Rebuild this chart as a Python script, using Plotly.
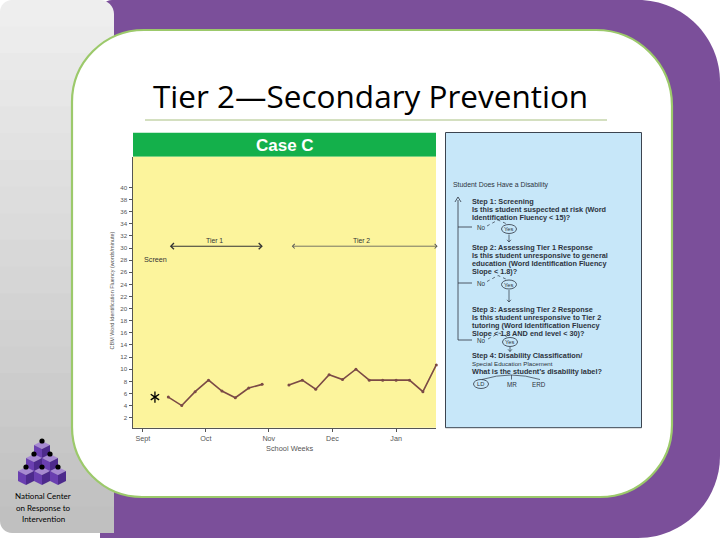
import plotly.graph_objects as go

# ---------------- data ----------------
tier1_weeks = [2, 3, 4, 5, 6, 7, 8, 9]
tier1_scores = [5.4, 4.0, 6.3, 8.2, 6.4, 5.3, 6.9, 7.5]
tier2_weeks = [11, 12, 13, 14, 15, 16, 17, 18, 19, 20, 21, 22]
tier2_scores = [7.4, 8.2, 6.7, 9.1, 8.3, 10.0, 8.2, 8.2, 8.2, 8.2, 6.3, 10.7]
screen_week = [1]
screen_score = [5.4]
month_ticks = [0.1, 4.8, 9.5, 14.25, 19.0]
month_labels = ["Sept", "Oct", "Nov", "Dec", "Jan"]
y_ticks = list(range(2, 41, 2))

W, H = 720, 540
K = 0.5523


def px(x):
    return x / W


def py(y):
    return 1 - y / H


def rrect(x0, y0, x1, y1, rtl, rtr, rbr, rbl):
    def p(x, y):
        return f"{px(x):.5f},{py(y):.5f}"
    s = f"M{p(x0 + rtl, y0)} L{p(x1 - rtr, y0)} "
    s += f"C{p(x1 - rtr + K * rtr, y0)} {p(x1, y0 + rtr - K * rtr)} {p(x1, y0 + rtr)} "
    s += f"L{p(x1, y1 - rbr)} "
    s += f"C{p(x1, y1 - rbr + K * rbr)} {p(x1 - rbr + K * rbr, y1)} {p(x1 - rbr, y1)} "
    s += f"L{p(x0 + rbl, y1)} "
    s += f"C{p(x0 + rbl - K * rbl, y1)} {p(x0, y1 - rbl + K * rbl)} {p(x0, y1 - rbl)} "
    s += f"L{p(x0, y0 + rtl)} "
    s += f"C{p(x0, y0 + rtl - K * rtl)} {p(x0 + rtl - K * rtl, y0)} {p(x0 + rtl, y0)} Z"
    return s


def poly(points, close=True):
    s = "M" + " L".join(f"{px(x):.5f},{py(y):.5f}" for x, y in points)
    return s + (" Z" if close else "")


shapes = []


def add_path(path, fill=None, line=None, lw=0, dash=None):
    d = dict(type="path", xref="paper", yref="paper", path=path, layer="below",
             line=dict(width=lw, color=line or "rgba(0,0,0,0)"))
    if dash:
        d["line"]["dash"] = dash
    if fill:
        d["fillcolor"] = fill
    shapes.append(d)


def add_rect(x0, y0, x1, y1, fill=None, line=None, lw=0):
    d = dict(type="rect", xref="paper", yref="paper", x0=px(x0), x1=px(x1),
             y0=py(y1), y1=py(y0), layer="below",
             line=dict(width=lw, color=line or "rgba(0,0,0,0)"))
    if fill:
        d["fillcolor"] = fill
    shapes.append(d)


def add_line(x0, y0, x1, y1, color, lw=1, dash=None):
    d = dict(type="line", xref="paper", yref="paper", x0=px(x0), x1=px(x1),
             y0=py(y0), y1=py(y1), layer="below", line=dict(width=lw, color=color))
    if dash:
        d["line"]["dash"] = dash
    shapes.append(d)


def add_ellipse(cx, cy, w, h, color="#2d3440"):
    shapes.append(dict(type="circle", xref="paper", yref="paper",
                       x0=px(cx - w / 2), x1=px(cx + w / 2), y0=py(cy + h / 2), y1=py(cy - h / 2),
                       layer="below", line=dict(width=0.8, color=color)))


# purple background frame
add_path(rrect(100, 0, 720, 538, 12, 82, 82, 0), fill="#7b4f9a")

# gray left panel with vertical gradient
N = 20
top_c, bot_c = 238, 192
y_edges = [0 + i * 533 / N for i in range(N + 1)]
for i in range(N):
    c = round(top_c + (bot_c - top_c) * i / (N - 1))
    col = f"rgb({c},{c},{c})"
    ya, yb = y_edges[i], y_edges[i + 1] + 0.8
    if i == 0:
        add_path(rrect(0, ya, 114, yb, 12, 14, 0, 0), fill=col)
    elif i == N - 1:
        add_path(rrect(0, ya, 114, y_edges[i + 1], 0, 0, 0, 12), fill=col)
    else:
        add_rect(0, ya, 114, yb, fill=col)

# white rounded content panel with green border
add_path(rrect(72, 30, 672, 497, 72, 76, 72, 70), fill="white", line="#9cc96b", lw=2.2)

# title underline
add_line(145, 120, 607, 120, "#a9c081", 1)

# chart: green header + yellow plot area
add_rect(133, 132.7, 436, 156.7, fill="#14b04b")
add_rect(133, 156.7, 436, 427.7, fill="#fcf49c")

# right blue panel
add_rect(445.5, 132.5, 641.5, 427.7, fill="#c7e7f9", line="#3c4450", lw=1)

# logo cubes
cube_centers = [(42, 448), (34, 461), (50, 461), (26, 474), (42, 474), (58, 474)]
for cx, cy in cube_centers:
    T = (cx, cy - 7)
    L = (cx - 8, cy - 3)
    R = (cx + 8, cy - 3)
    C = (cx, cy + 1)
    BL = (cx - 8, cy + 7)
    BR = (cx + 8, cy + 7)
    B = (cx, cy + 11)
    add_path(poly([T, R, C, L]), fill="#a78ad1")
    add_path(poly([L, C, B, BL]), fill="#6a3fb0")
    add_path(poly([C, R, BR, B]), fill="#4d2a8c")
for cx, cy in cube_centers:
    shapes.append(dict(type="circle", xref="paper", yref="paper",
                       x0=px(cx - 2.6), x1=px(cx + 2.6), y0=py(cy - 9.6), y1=py(cy - 4.4),
                       layer="below", fillcolor="black", line=dict(width=0)))

# flowchart lines in the blue panel
PC = "#2d3440"
no_rows = (227, 283, 340)
yes_pos = ((509, 229), (509, 284.5), (510, 342))
add_line(458, 200, 458, no_rows[-1], PC, 0.8)
add_path(poly([(455, 202), (458, 197), (461, 202)], close=False), line=PC, lw=0.8)
for yy in no_rows:
    add_line(458, yy, 472, yy, PC, 0.8)
for (xc, yc) in yes_pos:
    add_ellipse(xc, yc, 15, 9)
    add_path(poly([(xc - 22, yc - 3), (xc - 11, yc - 9), (xc - 2, yc - 5)], close=False),
             line=PC, lw=0.7, dash="dot")
# down arrows below each "Yes"
for (xc, ya, yb) in ((509, 234.5, 242), (509, 290, 302), (510, 347, 351.5)):
    add_line(xc, ya, xc, yb, PC, 0.7)
    add_path(poly([(xc - 2, yb - 2.2), (xc, yb), (xc + 2, yb - 2.2)], close=False), line=PC, lw=0.7)
add_ellipse(481, 384, 15, 9)
add_path(f"M{px(482):.5f},{py(379.5):.5f} Q{px(511):.5f},{py(370.5):.5f} {px(540):.5f},{py(379.5):.5f}",
         line=PC, lw=0.7)
add_line(511.5, 375, 511.5, 379.5, PC, 0.7)

# ---------------- figure ----------------
fig = go.Figure()
line_col = "#7b4a46"
fig.add_trace(go.Scatter(x=tier1_weeks, y=tier1_scores, mode="lines+markers",
                         line=dict(color=line_col, width=1.6),
                         marker=dict(size=3, color=line_col), cliponaxis=False))
fig.add_trace(go.Scatter(x=tier2_weeks, y=tier2_scores, mode="lines+markers",
                         line=dict(color=line_col, width=1.6),
                         marker=dict(size=3, color=line_col), cliponaxis=False))
for sym in ("y-up-open", "y-down-open"):
    fig.add_trace(go.Scatter(x=screen_week, y=screen_score, mode="markers",
                             marker=dict(symbol=sym, size=7, color="black",
                                         line=dict(width=1.3, color="black")), cliponaxis=False))

ann = []
TF = "Liberation Sans, Arial, sans-serif"


def txt(x, y, s, size=6.8, bold=True, color=PC, xanchor="left", font=TF):
    ann.append(dict(xref="paper", yref="paper", x=px(x), y=py(y), text=(f"<b>{s}</b>" if bold else s),
                    showarrow=False, xanchor=xanchor, yanchor="middle",
                    font=dict(size=size, color=color, family=font)))


# slide title
txt(370.5, 95, "Tier 2\u2014Secondary Prevention", size=31.5, bold=False, color="black",
    xanchor="center", font="Open Sans, Lato, sans-serif")
# case header
txt(284.5, 145, "Case C", size=17, bold=True, color="white", xanchor="center",
    font="Liberation Sans, Arial, sans-serif")

# logo text
for yy, s in ((496, "National Center"), (507.5, "on Response to"), (519, "Intervention")):
    txt(43, yy, s, size=8, bold=False, color="black", xanchor="center",
        font="Liberation Sans Narrow, Lato, sans-serif")

# flowchart text
txt(451, 185, "Student Does Have a Disability", size=6.9, bold=False)
lines_bold = [
    (202, "Step 1: Screening"),
    (210, "Is this student suspected at risk (Word"),
    (217.7, "Identification Fluency &lt; 15)?"),
    (247.7, "Step 2: Assessing Tier 1 Response"),
    (255.7, "Is this student unresponsive to general"),
    (263.3, "education (Word Identification Fluency"),
    (271, "Slope &lt; 1.8)?"),
    (309.5, "Step 3: Assessing Tier 2 Response"),
    (317.5, "Is this student unresponsive to Tier 2"),
    (325.5, "tutoring (Word Identification Fluency"),
    (333, "Slope &lt; 1.8 AND end level &lt; 30)?"),
    (355.5, "Step 4: Disability Classification/"),
    (371.2, "What is the student\u2019s disability label?"),
]
for yy, s in lines_bold:
    txt(470, yy, s, size=7.3, bold=True)
txt(470, 363.5, "Special Education Placement", size=6.2, bold=False)
for yy in no_rows:
    txt(475, yy + 0.5, "No", size=6.3, bold=False)
for (xc, yc) in yes_pos:
    txt(xc, yc, "Yes", size=5.8, bold=False, xanchor="center")
txt(481, 384, "LD", size=5.8, bold=False, xanchor="center")
txt(511.7, 384, "MR", size=6.3, bold=False, xanchor="center")
txt(539.3, 384, "ERD", size=6.3, bold=False, xanchor="center")

# axis title annotations
txt(289, 448, "School Weeks", size=7.4, bold=False, color="#555555", xanchor="center")
ann.append(dict(xref="paper", yref="paper", x=px(111.5), y=py(291),
                text="CBM Word Identification Fluency (words/minute)", showarrow=False,
                textangle=-90, xanchor="center", yanchor="middle",
                font=dict(size=5.5, color="#555555", family=TF)))

# chart annotations in data coordinates
ann.append(dict(xref="x", yref="y", x=9.05, y=30.3, ax=2.0, ay=30.3, axref="x", ayref="y",
                text="", showarrow=True, arrowside="end+start", arrowhead=4, startarrowhead=4,
                arrowsize=1.1, startarrowsize=1.1, arrowwidth=1.1, arrowcolor="#333333"))
ann.append(dict(xref="x", yref="y", x=22.1, y=30.3, ax=11.1, ay=30.3, axref="x", ayref="y",
                text="", showarrow=True, arrowside="end+start", arrowhead=4, startarrowhead=4,
                arrowsize=1.1, startarrowsize=1.1, arrowwidth=0.8, arrowcolor="#555555"))
ann.append(dict(xref="x", yref="y", x=5.45, y=31.3, text="Tier 1", showarrow=False,
                font=dict(size=6.8, color="#333333", family=TF)))
ann.append(dict(xref="x", yref="y", x=16.45, y=31.3, text="Tier 2", showarrow=False,
                font=dict(size=6.8, color="#333333", family=TF)))
ann.append(dict(xref="x", yref="y", x=0.05, y=28.1, text="Screen", showarrow=False,
                xanchor="left", font=dict(size=7.2, color="#333333", family=TF)))

fig.update_layout(
    width=W, height=H, margin=dict(l=0, r=0, t=0, b=0),
    paper_bgcolor="white", plot_bgcolor="rgba(0,0,0,0)",
    showlegend=False, shapes=shapes, annotations=ann,
    xaxis=dict(domain=[px(132.7), px(436.3)], range=[-0.66, 22.0],
               tickvals=month_ticks, ticktext=month_labels, ticks="outside", ticklen=3,
               tickcolor="#555555", showline=True, linecolor="#555555", linewidth=1.4,
               showgrid=False, zeroline=False,
               tickfont=dict(size=7.2, color="#555555", family=TF)),
    yaxis=dict(domain=[py(427.7), py(156.7)], range=[0.35, 45.07],
               tickvals=y_ticks, ticks="outside", ticklen=3, tickcolor="#555555",
               showline=True, linecolor="#555555", linewidth=1.4,
               showgrid=False, zeroline=False,
               tickfont=dict(size=6.2, color="#555555", family=TF)),
)

fig.write_html("out.html", config={"displayModeBar": False},
               post_script="document.body.style.margin='0px';document.body.style.overflow='hidden';")
